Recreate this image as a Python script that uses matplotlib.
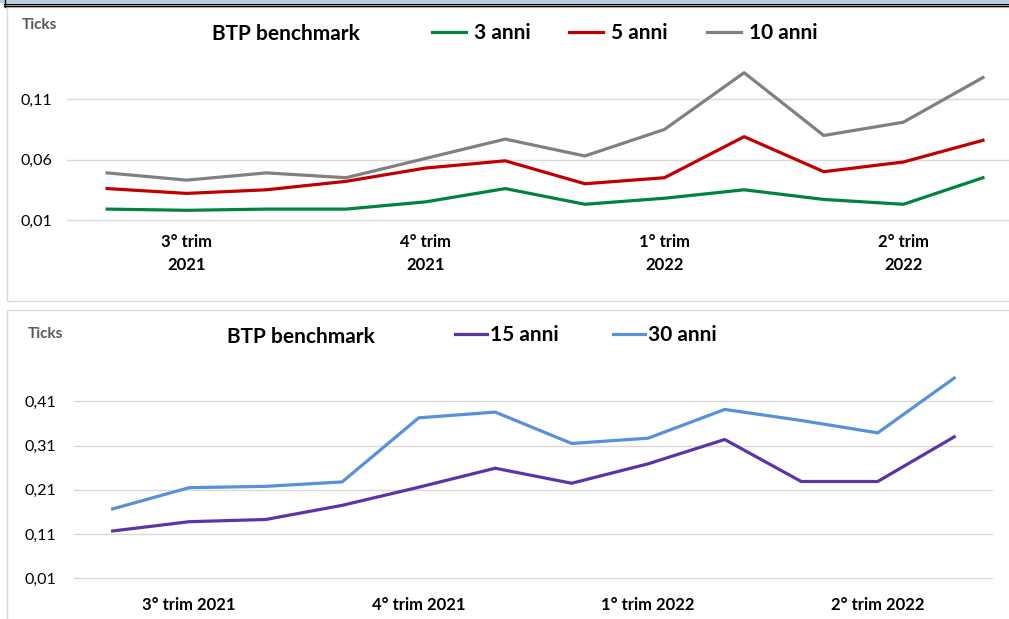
import numpy as np
import matplotlib
matplotlib.use("Agg")
from matplotlib import pyplot as plt
from matplotlib.patches import Rectangle
from matplotlib.lines import Line2D

plt.rcParams['font.family'] = ['Lato', 'DejaVu Sans']

btp_3y = [0.019, 0.018, 0.019, 0.019, 0.025, 0.036, 0.023, 0.028, 0.035, 0.027, 0.023, 0.045]
btp_5y = [0.036, 0.032, 0.035, 0.042, 0.053, 0.059, 0.040, 0.045, 0.079, 0.050, 0.058, 0.076]
btp_10y = [0.049, 0.043, 0.049, 0.045, 0.061, 0.077, 0.063, 0.085, 0.132, 0.080, 0.091, 0.128]
btp_15y = [0.117, 0.138, 0.143, 0.175, 0.216, 0.259, 0.225, 0.269, 0.324, 0.229, 0.229, 0.330]
btp_30y = [0.167, 0.215, 0.218, 0.228, 0.373, 0.386, 0.315, 0.327, 0.392, 0.367, 0.339, 0.463]

quarter_idx = [1, 4, 7, 10]
quarters_top = ["3° trim\n2021", "4° trim\n2021", "1° trim\n2022", "2° trim\n2022"]
quarters_bottom = ["3° trim 2021", "4° trim 2021", "1° trim 2022", "2° trim 2022"]
yticks_top = [0.01, 0.06, 0.11]
yticks_bottom = [0.01, 0.11, 0.21, 0.31, 0.41]

W, H = 1009, 619
fig = plt.figure(figsize=(W / 100, H / 100), dpi=100)
fig.patch.set_facecolor("white")

# everything below is laid out in pixels of the final picture
def rect(x0, y0, x1, y1):
    return [x0 / W, 1 - y1 / H, (x1 - x0) / W, (y1 - y0) / H]

def fig_pt(x, y):
    return x / W, 1 - y / H

# frame decorations
fig.patches.append(Rectangle((0, 1 - 3 / H), 1, 3 / H, transform=fig.transFigure,
                             facecolor="#b9cde5", edgecolor="none", zorder=0))
for yy in (3.5, 6.0):
    fig.lines.append(Line2D([4 / W, 1], [1 - yy / H] * 2, transform=fig.transFigure,
                            color="black", lw=1.0))
fig.lines.append(Line2D([4.5 / W] * 2, [1, 1 - 7 / H], transform=fig.transFigure,
                        color="black", lw=1.0))
fig.patches.append(Rectangle(rect(7, 7, 1040, 300.5)[:2], 1033 / W, 293.5 / H,
                             transform=fig.transFigure, facecolor="none",
                             edgecolor="#d9d9d9", lw=1))
fig.patches.append(Rectangle(rect(7, 310, 1040, 640)[:2], 1033 / W, 330 / H,
                             transform=fig.transFigure, facecolor="none",
                             edgecolor="#d9d9d9", lw=1))

def style(ax, yticks, labels, ypad, xpad):
    for s in ax.spines.values():
        s.set_visible(False)
    ax.set_facecolor("none")
    ax.set_yticks(yticks, [f"{v:.2f}".replace(".", ",") for v in yticks])
    ax.set_xticks(quarter_idx, labels)
    ax.tick_params(length=0, labelsize=11.5, colors="#000000")
    ax.tick_params(axis="y", pad=ypad)
    ax.tick_params(axis="x", pad=xpad, labelsize=12)
    for t in ax.get_xticklabels():
        t.set_fontweight("bold")
        t.set_linespacing(1.55)
    ax.grid(axis="y", color="#d9d9d9", lw=1)
    ax.set_axisbelow(True)
    ax.set_xlim(-0.5, 11.5)

x = np.arange(len(btp_3y))

# top panel
ax1 = fig.add_axes(rect(67.3, 38.9, 1022.8, 226))
ax1.plot(x, btp_3y, color="#00843d", lw=2.3, label="3 anni")
ax1.plot(x, btp_5y, color="#c00000", lw=2.3, label="5 anni")
ax1.plot(x, btp_10y, color="#808080", lw=2.3, label="10 anni")
ax1.set_ylim(0.005, 0.16)
style(ax1, yticks_top, quarters_top, 11, 6)
ax1.legend(loc="center left", bbox_to_anchor=fig_pt(432, 33), bbox_transform=fig.transFigure,
           ncol=3, frameon=False, prop={"weight": "bold", "size": 15}, borderpad=0,
           borderaxespad=0, handlelength=1.63, handletextpad=0.38, columnspacing=1.87)
fig.text(*fig_pt(286, 34), "BTP benchmark", ha="center", va="center",
         fontsize=15, fontweight="bold")
fig.text(*fig_pt(22, 25), "Ticks", ha="left", va="center", fontsize=11,
         fontweight="bold", color="#595959")

# bottom panel
ax2 = fig.add_axes(rect(74.4, 361.7, 992.5, 582.7))
ax2.plot(x, btp_15y, color="#5b35a8", lw=2.3, label="15 anni")
ax2.plot(x, btp_30y, color="#5592d8", lw=2.3, label="30 anni")
ax2.set_ylim(0.0, 0.5)
style(ax2, yticks_bottom, quarters_bottom, 13, 10)
ax2.legend(loc="center left", bbox_to_anchor=fig_pt(455, 335), bbox_transform=fig.transFigure,
           ncol=2, frameon=False, prop={"weight": "bold", "size": 15}, borderpad=0,
           borderaxespad=0, handlelength=1.54, handletextpad=0.12, columnspacing=2.64)
fig.text(*fig_pt(301, 337), "BTP benchmark", ha="center", va="center",
         fontsize=15, fontweight="bold")
fig.text(*fig_pt(28, 334), "Ticks", ha="left", va="center", fontsize=11,
         fontweight="bold", color="#595959")

fig.savefig("out.png", dpi=100)
